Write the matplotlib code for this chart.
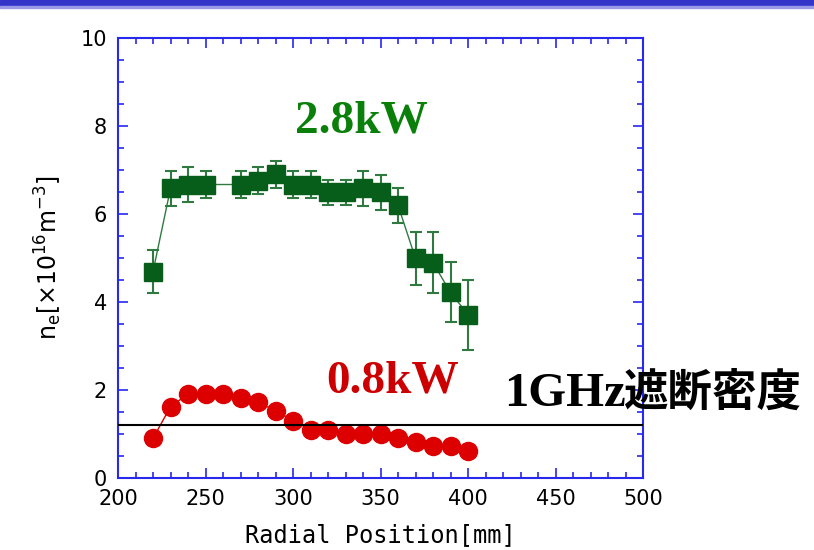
import numpy as np
import matplotlib
matplotlib.use('Agg')
import matplotlib.pyplot as plt
from matplotlib.ticker import MultipleLocator
from matplotlib.patches import Rectangle

# radial profiles of electron density
r_low = [220, 230, 240, 250, 260, 270, 280, 290, 300, 310,
         320, 330, 340, 350, 360, 370, 380, 390, 400]
ne_low = [0.9, 1.62, 1.91, 1.91, 1.91, 1.82, 1.72, 1.53, 1.3, 1.1,
          1.1, 1.0, 1.0, 1.0, 0.9, 0.82, 0.72, 0.72, 0.62]

r_high = [220, 230, 240, 250, 270, 280, 290, 300, 310,
          320, 330, 340, 350, 360, 370, 380, 390, 400]
ne_high = [4.69, 6.58, 6.67, 6.67, 6.67, 6.76, 6.9, 6.67, 6.67,
           6.49, 6.49, 6.58, 6.49, 6.2, 4.99, 4.89, 4.22, 3.71]
err_high = [0.49, 0.4, 0.4, 0.31, 0.31, 0.3, 0.3, 0.31, 0.31,
            0.28, 0.28, 0.4, 0.4, 0.4, 0.6, 0.69, 0.68, 0.79]

cutoff = 1.2  # 1 GHz cutoff density

SPINE = '#2828f0'
GREEN = '#075e1b'
RED = '#dd0000'

fig = plt.figure(figsize=(8.14, 5.5), dpi=100)
fig.patches.append(Rectangle((0, 1 - 6 / 550), 1, 6 / 550, transform=fig.transFigure,
                             color='#3434c8', zorder=0))
fig.patches.append(Rectangle((0, 1 - 8 / 550), 1, 2 / 550, transform=fig.transFigure,
                             color='#9a9ae6', zorder=0))

ax = fig.add_axes([118 / 814, 72 / 550, 525 / 814, 440 / 550])

ax.plot(r_low, ne_low, '-', color=RED, lw=1, zorder=2)
ax.plot(r_low, ne_low, 'o', color=RED, ms=13, mec=RED, zorder=3)

ax.errorbar(r_high, ne_high, yerr=err_high, fmt='none', ecolor='#2f7a40',
            elinewidth=1.5, capsize=4, capthick=1.5, zorder=2)
ax.plot(r_high, ne_high, '-', color='#2f7a40', lw=1, zorder=2)
ax.plot(r_high, ne_high, 's', color=GREEN, ms=13, mec=GREEN, zorder=3)

ax.axhline(cutoff, color='black', lw=1.5, zorder=4)

ax.set_xlim(200, 500)
ax.set_ylim(0, 10)
ax.xaxis.set_major_locator(MultipleLocator(50))
ax.xaxis.set_minor_locator(MultipleLocator(10))
ax.yaxis.set_major_locator(MultipleLocator(2))
ax.yaxis.set_minor_locator(MultipleLocator(0.5))

for s in ax.spines.values():
    s.set_color(SPINE)
    s.set_linewidth(1.5)
ax.tick_params(which='both', direction='in', color=SPINE, top=True, right=True,
               width=1.2, labelsize=15, labelcolor='black')
ax.tick_params(which='major', length=7, pad=8)
ax.tick_params(which='minor', length=4)

ax.set_xlabel('Radial Position[mm]', fontsize=17, family='DejaVu Sans Mono', labelpad=10)
ax.set_ylabel(r'n$_\mathregular{e}$[×10$^\mathregular{16}$m$^\mathregular{-3}$]',
              fontsize=17, family='DejaVu Sans', labelpad=12)

ax.text(339, 8.1, '2.8kW', color='#0a7f0a', fontsize=34, fontweight='bold',
        family='Liberation Serif', ha='center', va='center')
ax.text(357, 2.2, '0.8kW', color='#cc0000', fontsize=34, fontweight='bold',
        family='Liberation Serif', ha='center', va='center')
fig.text(504 / 814, 1 - 394 / 550, '1GHz', color='black', fontsize=35, fontweight='bold',
         family='Liberation Serif', ha='left', va='center')
fig.text(623 / 814, 1 - 393 / 550, '遮断密度', color='black', fontsize=32, fontweight='bold',
         family=['Noto Sans CJK JP', 'DejaVu Sans'], ha='left', va='center')

fig.savefig('out.png', dpi=100)
